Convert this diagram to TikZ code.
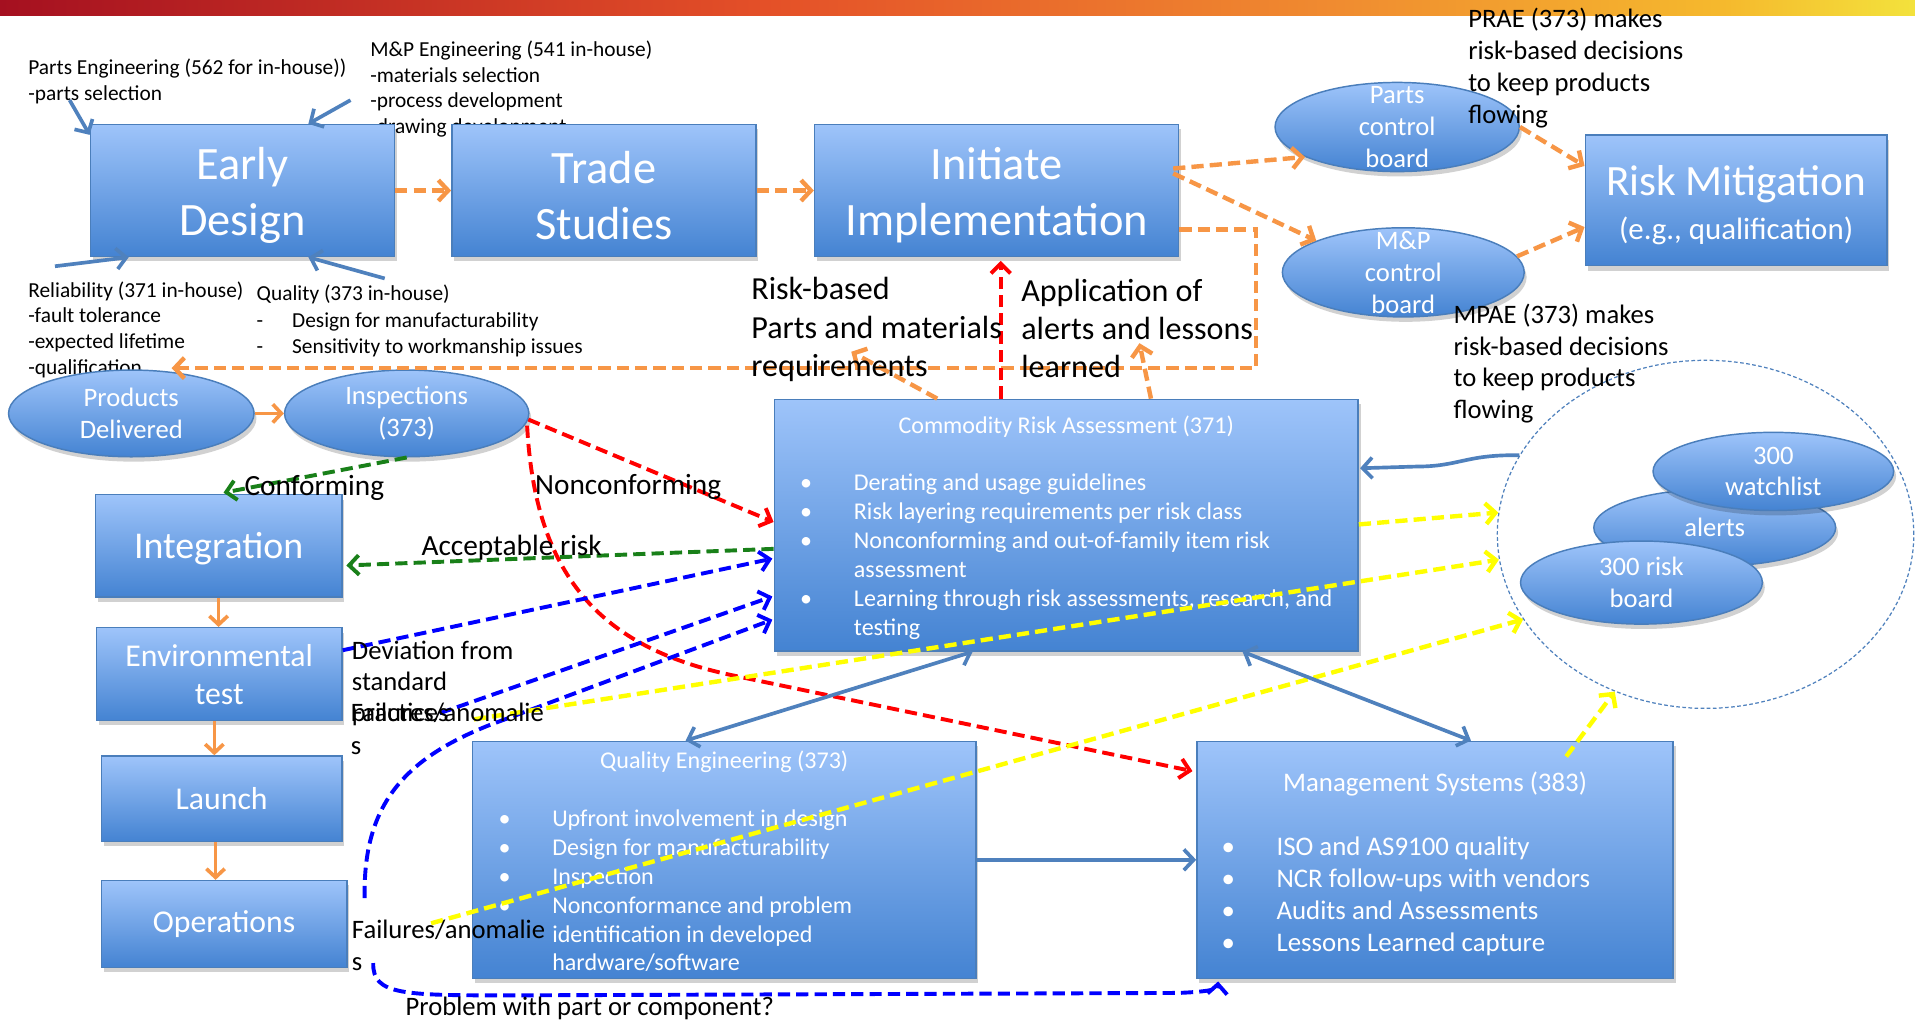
\documentclass[tikz,border=0pt]{standalone}
\usepackage{fontspec}
\setmainfont{Carlito}
\usetikzlibrary{arrows.meta,shapes.geometric,shadows,calc}
\definecolor{bxTop}{RGB}{158,196,250}
\definecolor{bxBot}{RGB}{68,131,210}
\definecolor{bxLine}{RGB}{74,126,187}
\definecolor{oraC}{RGB}{247,150,70}
\definecolor{grnC}{RGB}{25,128,25}
\definecolor{sblC}{RGB}{79,129,189}
\definecolor{bluC}{RGB}{0,0,255}
\definecolor{redC}{RGB}{255,0,0}
\definecolor{yelC}{RGB}{255,255,0}
\definecolor{barA}{RGB}{165,16,32}
\definecolor{barB}{RGB}{228,80,40}
\definecolor{barC}{RGB}{240,140,48}
\definecolor{barD}{RGB}{245,185,45}
\definecolor{barE}{RGB}{243,226,60}
\pgfdeclarehorizontalshading{topbar}{100bp}{color(0bp)=(barA); color(25bp)=(barA); color(45bp)=(barB); color(60bp)=(barC); color(70bp)=(barD); color(75bp)=(barE); color(100bp)=(barE)}
\newcommand{\fSmall}{\fontsize{17.5}{21}\selectfont}
\newcommand{\fSmallB}{\fontsize{17.5}{21.5}\selectfont}
\newcommand{\fMid}{\fontsize{21.8}{26}\selectfont}
\newcommand{\fDev}{\fontsize{21.8}{25.5}\selectfont}
\newcommand{\fFa}{\fontsize{21.8}{27}\selectfont}
\newcommand{\fLab}{\fontsize{26.3}{31.5}\selectfont}
\newcommand{\fConf}{\fontsize{24}{28}\selectfont}
\newcommand{\fBig}{\fontsize{38}{46}\selectfont}
\newcommand{\fBoxM}{\fontsize{26}{31}\selectfont}
\newcommand{\fEll}{\fontsize{21.8}{26}\selectfont}
\newcommand{\fBody}{\fontsize{19.7}{23.6}\selectfont}
\newcommand{\fMS}{\fontsize{22}{26.3}\selectfont}
\newcommand{\bulA}{\makebox[44pt][l]{\textbullet}}
\newcommand{\indA}{\hspace*{44pt}}
\newcommand{\bulB}{\makebox[45pt][l]{\textbullet}}
\newcommand{\upStrut}[1]{\rule{0pt}{#1}}
\tikzset{
  bx/.style={draw=bxLine, line width=1.2pt, top color=bxTop, bottom color=bxBot, rectangle, inner sep=0pt, text=white, align=center,
    drop shadow={shadow xshift=2pt, shadow yshift=-4pt, opacity=0.18, fill=black}},
  el/.style={bx, ellipse},
  elt/.style={text=white, font=\fEll, align=center, inner sep=0pt},
  lbl/.style={inner sep=0pt, anchor=base west, align=left, text=black},
  wtxt/.style={inner sep=0pt, text=white},
  dsh/.style={dash pattern=on 10pt off 5pt},
  oarr/.style={draw=oraC, line width=3.6pt, dsh, -{Straight Barb[length=8pt,width=17pt]}},
  osol/.style={draw=oraC, line width=3pt, -{Straight Barb[length=7pt,width=15pt]}},
  rarr/.style={draw=redC, line width=3.2pt, dsh, -{Straight Barb[length=8pt,width=16pt]}},
  garr/.style={draw=grnC, line width=3.2pt, dsh, -{Straight Barb[length=8pt,width=16pt]}},
  barr/.style={draw=bluC, line width=3.2pt, dsh, -{Straight Barb[length=8pt,width=16pt]}},
  yarr/.style={draw=yelC, line width=3.6pt, dsh, -{Straight Barb[length=8pt,width=17pt]}},
  sbl/.style={draw=sblC, line width=3pt, -{Straight Barb[length=8pt,width=17pt]}},
  sbltwo/.style={draw=sblC, line width=3pt, {Straight Barb[length=8pt,width=17pt]}-{Straight Barb[length=8pt,width=17pt]}},
}
\begin{document}
\begin{tikzpicture}[x=1pt,y=-1pt]
\fill[white] (0,0) rectangle (1568,835);
\useasboundingbox (0,0) rectangle (1568,835);
\shade[shading=topbar] (0,0) rectangle (1568,13);

% texts partly covered by shapes (anchor = baseline of last line)
\node[lbl, font=\fSmall] (mpe) at (303,109.3) {M\&P Engineering (541 in-house)\\-materials selection\\-process development\\-drawing development};
\node[lbl, font=\fSmall] (pe) at (23,82.3) {Parts Engineering (562 for in-house))\\-parts selection};
\node[lbl, font=\fSmall] (rel) at (23,306.3) {Reliability (371 in-house)\\-fault tolerance\\-expected lifetime\\-qualification};
\node[lbl, font=\fSmallB] (qual) at (210,289.3) {Quality (373 in-house)\\\makebox[29pt][l]{-}Design for manufacturability\\\makebox[29pt][l]{-}Sensitivity to workmanship issues};

% main boxes
\node[bx, minimum width=249pt, minimum height=108pt, font=\fBig] (ed) at (198.5,156) {\upStrut{34pt}Early\\Design};
\node[bx, minimum width=249pt, minimum height=108pt, font=\fBig] (ts) at (494.5,156) {\upStrut{34pt}Trade\\Studies};
\node[bx, minimum width=298pt, minimum height=108pt, font=\fBig] (ii) at (816,156) {\upStrut{34pt}Initiate\\Implementation};
\node[bx, minimum width=247pt, minimum height=107pt, font=\fontsize{35.4}{36}\selectfont] (rm) at (1421.5,164) {\upStrut{33pt}Risk Mitigation\\{\fontsize{25.3}{36}\selectfont (e.g., qualification)}};

\node[el, minimum width=200pt, minimum height=73pt, label={[elt]center:Parts\\control\\board}] (pcb) at (1144,104) {};
\node[el, minimum width=198pt, minimum height=73pt, label={[elt]center:M\&P\\control\\board}] (mcb) at (1149,223) {};
\node[el, minimum width=201pt, minimum height=71pt, label={[elt]center:Products\\Delivered}] (pd) at (107.5,338.5) {};
\node[el, minimum width=200pt, minimum height=71pt, label={[elt]center:Inspections\\(373)}] (ins) at (333,338.5) {};

\node[bx, minimum width=202pt, minimum height=84pt, font=\fontsize{31}{36}\selectfont] (integ) at (179,447) {\upStrut{26pt}Integration};
\node[bx, minimum width=201pt, minimum height=76pt, font=\fBoxM] (env) at (179.5,552) {Environmental\\test};
\node[bx, minimum width=197pt, minimum height=70pt, font=\fBoxM] (launch) at (181.5,654) {Launch};
\node[bx, minimum width=201pt, minimum height=71pt, font=\fBoxM] (ops) at (183.5,756.5) {Operations};

\node[bx, minimum width=478pt, minimum height=206pt] (cra) at (873,430) {};
\node[bx, minimum width=412pt, minimum height=194pt] (qe) at (593,704) {};
\node[bx, minimum width=390pt, minimum height=194pt] (ms) at (1175,704) {};

\node[wtxt, anchor=base, font=\fBody] (craT) at (873,355) {Commodity Risk Assessment (371)};
\node[wtxt, anchor=base west, align=left, font=\fBody] (craB) at (655,520) {\bulA Derating and usage guidelines\\\bulA Risk layering requirements per risk class\\\bulA Nonconforming and out-of-family item risk\\\indA assessment\\\bulA Learning through risk assessments, research, and\\\indA testing};
\node[wtxt, anchor=base, font=\fBody] (qeT) at (593,629) {Quality Engineering (373)};
\node[wtxt, anchor=base west, align=left, font=\fBody] (qeB) at (408,795) {\bulA Upfront involvement in design\\\bulA Design for manufacturability\\\bulA Inspection\\\bulA Nonconformance and problem\\\indA identification in developed\\\indA hardware/software};
\node[wtxt, anchor=base, font=\fMS] (msT) at (1175,648) {Management Systems (383)};
\node[wtxt, anchor=base west, align=left, font=\fMS] (msB) at (1000,779) {\bulB ISO and AS9100 quality\\\bulB NCR follow-ups with vendors\\\bulB Audits and Assessments\\\bulB Lessons Learned capture};

% watch circle
\node[draw=sblC, line width=1pt, dash pattern=on 3pt off 2pt, ellipse, minimum width=341pt, minimum height=285pt, inner sep=0pt] (circ) at (1396.5,437.5) {};
\node[el, minimum width=198pt, minimum height=63pt, label={[elt]center:alerts}] (alerts) at (1404,432) {};
\node[el, minimum width=197pt, minimum height=64pt, label={[elt]center:300\\watchlist}] (wl) at (1452,386) {};
\node[el, minimum width=198pt, minimum height=68pt, label={[elt]center:300 risk\\board}] (rb) at (1344,477) {};

% free-end coordinates
\coordinate (peA) at (57,82);
\coordinate (mpA) at (287,82);
\coordinate (relA) at (45,218);
\coordinate (quA) at (315,228);
\coordinate (rbTip) at (697,288);
\coordinate (apTip) at (933,281);
\coordinate (blA) at (360,584);
\coordinate (yA) at (388,589);
\coordinate (yB) at (353,756);

% steel blue into Early Design
\draw[sbl] (peA) -- ($(ed.north west)+(0,9)$);
\draw[sbl] (mpA) -- ($(ed.north)+(54,0)$);
\draw[sbl] (relA) -- ($(ed.south west)+(32,0)$);
\draw[sbl] (quA) -- ($(ed.south)+(54,0)$);

% orange
\draw[oarr] (ed.east) -- (ts.west);
\draw[oarr] (ts.east) -- (ii.west);
\draw[oarr] ($(ii.east)+(-5,-18)$) -- (pcb.198);
\draw[oarr] ($(ii.east)+(-5,-14)$) -- (mcb.160);
\draw[oarr] ($(ii.east)+(0,32)$) -- ++(63,0) |- ($(pd.north)+(33,-1)$);
\draw[oarr] (pcb.east) -- ($(rm.north west)+(0,26)$);
\draw[oarr] (mcb.8) -- ($(rm.north west)+(0,76)$);
\draw[osol] (pd.east) -- (ins.west);
\draw[oarr] ($(cra.north west)+(134,0)$) -- (rbTip);
\draw[oarr] ($(cra.north west)+(309,0)$) -- (apTip);
\draw[osol] (integ.south) -- (integ.south |- env.north);
\draw[osol] ($(env.south)+(-4,0)$) -- ($(launch.north)+(-6,0)$);
\draw[osol] ($(launch.south)+(-5,0)$) -- ($(ops.north)+(-7,0)$);

% red
\draw[rarr] ($(cra.north west)+(186,0)$) -- ($(ii.south west)+(153,3)$);
\draw[rarr] ($(ins.east)+(-1,5)$) -- ($(cra.north west)+(0,101)$);
\draw[rarr] ($(ins.east)+(-2,10)$) .. controls (438,470) and (490,530) .. (600,553) -- ($(ms.north west)+(-3,25)$);

% green
\draw[garr] (ins.south) -- ($(integ.north)+(4,-1)$);
\draw[garr] ($(cra.north west)+(0,123)$) -- ($(integ.east)+(3,16)$);

% blue dashed
\draw[barr] ($(env.north east)+(0,19)$) -- ($(cra.north west)+(-1,131)$);
\draw[barr] (blA) -- ($(cra.north west)+(-1,162)$);
\draw[barr] ($(ops.north east)+(14,15)$) .. controls (297,660) and (330,622) .. (400,594) -- ($(cra.north west)+(-1,181)$);
\draw[barr] ($(ops.east)+(21,32)$) .. controls (305,815) and (330,815) .. (420,815) -- (965,813) .. controls (990,812) and (997,810) .. ($(ms.south west)+(18,2)$);

% yellow
\draw[yarr] (yA) -- (circ.187);
\draw[yarr] ($(cra.north east)+(0,103)$) -- (circ.174);
\draw[yarr] (yB) -- (circ.205);
\draw[yarr] ($(ms.north west)+(303,13)$) -- (circ.240);

% steel blue solid
\draw[sbl] (circ.157) .. controls (1200,372) and (1195,382) .. (1160,382) -- ($(cra.north east)+(1,57)$);
\draw[sbltwo] ($(cra.south west)+(163,0)$) -- ($(qe.north west)+(175,0)$);
\draw[sbltwo] ($(cra.south west)+(384,0)$) -- ($(ms.north west)+(225,0)$);
\draw[sbl] (qe.east) -- (ms.west);

% black labels (anchor = baseline of last line)
\node[lbl, font=\fMid] (prae) at (1202,100.8) {PRAE (373) makes\\risk-based decisions\\to keep products\\flowing};
\node[lbl, font=\fMid] (mpae) at (1190,342.8) {MPAE (373) makes\\risk-based decisions\\to keep products\\flowing};
\node[lbl, font=\fLab] (rbl) at (615,308.5) {Risk-based\\Parts and materials\\requirements};
\node[lbl, font=\fLab] (apl) at (836,309.5) {Application of\\alerts and lessons\\learned};
\node[lbl, font=\fConf] (conf) at (200,405.6) {Conforming};
\node[lbl, font=\fConf] (nonc) at (438,404.6) {Nonconforming};
\node[lbl, font=\fConf] (acc) at (345,454.6) {Acceptable risk};
\node[lbl, font=\fDev] (dev) at (288,590.8) {Deviation from\\standard\\practices};
\node[lbl, font=\fFa] (faA) at (287,617.8) {Failures/anomalie\\s};
\node[lbl, font=\fMid] (faB) at (288,794.8) {Failures/anomalie\\s};
\node[lbl, font=\fMid] (prob) at (332,831.8) {Problem with part or component?};
\end{tikzpicture}
\end{document}
